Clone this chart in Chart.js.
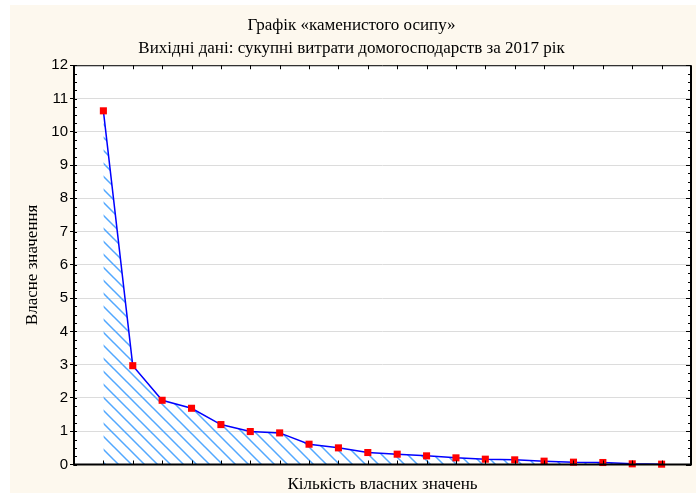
<!DOCTYPE html>
<html>
<head>
<meta charset="utf-8">
<script src="https://cdn.jsdelivr.net/npm/chart.js"></script>
<style>
  html, body { margin: 0; padding: 0; background: #ffffff; }
  #wrap { position: relative; width: 696px; height: 493px; overflow: hidden; }
  #screeChart { position: absolute; left: 10px; top: 5px; }
</style>
</head>
<body>
<div id="wrap"><canvas id="screeChart" width="686" height="488"></canvas></div>
<script>
// ==================== DATA ====================
const componentNumbers = [1, 2, 3, 4, 5, 6, 7, 8, 9, 10, 11, 12, 13, 14, 15, 16, 17, 18, 19, 20];
const eigenValues = [10.63, 2.97, 1.93, 1.69, 1.20, 0.99, 0.95, 0.61, 0.50, 0.36,
                     0.31, 0.26, 0.20, 0.16, 0.14, 0.10, 0.07, 0.06, 0.02, 0.01];
const yTickValues = [0, 1, 2, 3, 4, 5, 6, 7, 8, 9, 10, 11, 12];
const chartTitle = ['Графік «каменистого осипу»', 'Вихідні дані: сукупні витрати домогосподарств за 2017 рік'];
const xAxisTitle = 'Кількість власних значень';
const yAxisTitle = 'Власне значення';

// ==================== HELPERS ====================
function makeHatch() {
    const s = 13;
    const c = document.createElement('canvas');
    c.width = s;
    c.height = s;
    const g = c.getContext('2d');
    g.strokeStyle = '#52a8ff';
    g.lineWidth = 1.5;
    g.beginPath();
    g.moveTo(-3, -3); g.lineTo(s + 3, s + 3);
    g.moveTo(-3, s - 3); g.lineTo(3, s + 3);
    g.moveTo(s - 3, -3); g.lineTo(s + 3, 3);
    g.stroke();
    return g.createPattern(c, 'repeat');
}

function line(ctx, x1, y1, x2, y2) {
    ctx.beginPath();
    ctx.moveTo(x1, y1);
    ctx.lineTo(x2, y2);
    ctx.stroke();
}

// background + frame with inner ticks
const frameTicks = {
    id: 'frameTicks',
    beforeDraw(chart) {
        const { ctx, chartArea: a } = chart;
        ctx.save();
        ctx.fillStyle = '#fdf8ee';
        ctx.fillRect(0, 0, chart.width, chart.height);
        ctx.fillStyle = '#ffffff';
        ctx.fillRect(a.left, a.top, a.right - a.left, a.bottom - a.top);
        ctx.restore();
    },
    afterDatasetsDraw(chart) {
        const { ctx, chartArea: a, scales: { x, y } } = chart;
        ctx.save();
        ctx.strokeStyle = '#000000';
        ctx.lineWidth = 1;

        // category ticks on top and bottom edges
        componentNumbers.forEach(n => {
            const px = Math.round(x.getPixelForValue(n)) + 0.5;
            line(ctx, px, a.bottom, px, a.bottom - 4);
            line(ctx, px, a.top, px, a.top + 4);
        });

        // minor ticks on left and right edges
        for (let v = 0; v <= 12; v += 0.25) {
            const py = Math.round(y.getPixelForValue(v)) + 0.5;
            const major = Number.isInteger(v);
            line(ctx, a.left, py, a.left + 3, py);
            line(ctx, a.right, py, a.right - (major ? 5 : 3), py);
        }

        // frame
        ctx.lineWidth = 1;
        line(ctx, a.left, a.top + 0.5, a.right, a.top + 0.5);
        ctx.lineWidth = 2;
        line(ctx, a.right, a.top, a.right, a.bottom);
        line(ctx, a.left, a.top, a.left, a.bottom + 1);
        line(ctx, a.left - 1, a.bottom, a.right + 1, a.bottom);
        ctx.restore();
    }
};

// ==================== CHART ====================
const ctx = document.getElementById('screeChart');
const screeChart = new Chart(ctx, {
    type: 'line',
    data: {
        datasets: [{
            label: yAxisTitle,
            data: componentNumbers.map((n, i) => ({ x: n, y: eigenValues[i] })),
            borderColor: '#0000ff',
            borderWidth: 1.5,
            backgroundColor: makeHatch(),
            fill: 'origin',
            tension: 0,
            pointStyle: 'rect',
            pointRadius: 5,
            pointBackgroundColor: '#ff0000',
            pointBorderColor: '#ff0000',
            pointBorderWidth: 0,
            clip: false
        }]
    },
    options: {
        responsive: false,
        animation: false,
        layout: { padding: { left: 0, right: 3, top: 0, bottom: 0 } },
        plugins: {
            legend: { display: false },
            tooltip: { enabled: false },
            title: {
                display: true,
                text: chartTitle,
                color: '#000000',
                font: { family: 'Liberation Serif', size: 17, weight: 'normal', lineHeight: 1.36 },
                padding: { top: 9, bottom: 5 }
            }
        },
        scales: {
            x: {
                type: 'linear',
                min: 0,
                max: 21,
                ticks: { display: false, stepSize: 1 },
                grid: { display: false },
                border: { display: false },
                title: {
                    display: true,
                    text: xAxisTitle,
                    color: '#000000',
                    font: { family: 'Liberation Serif', size: 17, lineHeight: 1.0 },
                    padding: { top: 0, bottom: 0 }
                },
                afterFit: s => { s.height = 28.5; }
            },
            y: {
                min: 0,
                max: 12,
                afterBuildTicks: s => { s.ticks = yTickValues.map(v => ({ value: v })); },
                ticks: {
                    color: '#000000',
                    padding: 2,
                    font: { family: 'Liberation Sans', size: 15 }
                },
                grid: {
                    color: '#dcdcdc',
                    lineWidth: 1,
                    tickLength: 4,
                    tickColor: '#000000'
                },
                border: { display: false },
                title: {
                    display: true,
                    text: yAxisTitle,
                    color: '#000000',
                    font: { family: 'Liberation Serif', size: 17, lineHeight: 1.2 },
                    padding: { top: 12, bottom: 0 }
                },
                afterFit: s => { s.width = 64; }
            }
        }
    },
    plugins: [frameTicks]
});
</script>
</body>
</html>
